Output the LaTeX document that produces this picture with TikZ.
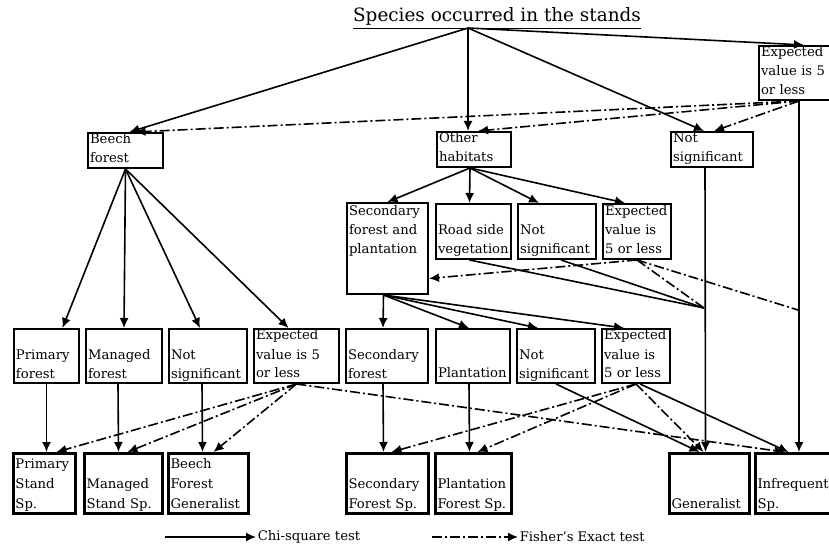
\documentclass[tikz,border=0pt]{standalone}
\usepackage{fontspec}
\setmainfont{DejaVu Serif}
\usetikzlibrary{arrows.meta}

\begin{document}
\begin{tikzpicture}[x=0.5pt,y=-0.5pt,>={Latex[length=5pt,width=4.5pt]}]
        \tikzstyle{every path}=[line width=0.8pt]
        \useasboundingbox (0,0) rectangle (829,550);

        \tikzstyle{box}=[draw,line width=1pt,anchor=north west,align=left,inner sep=1pt,font=\fontsize{6.6}{9.5}\selectfont]
        \tikzstyle{final}=[box,line width=1.5pt,font=\fontsize{6.6}{10}\selectfont]
        \tikzstyle{top2}=[box,text height=4.5pt,text depth=11pt]
        \tikzstyle{mid3}=[box,text height=5pt,text depth=20.5pt]
        \tikzstyle{mid2}=[box,text height=14.5pt,text depth=11pt]
        \tikzstyle{low3}=[box,text height=4.5pt,text depth=20.5pt]
        \tikzstyle{low2}=[box,text height=14pt,text depth=11pt]
        \tikzstyle{low1}=[box,text height=23.5pt,text depth=1.5pt]
        \tikzstyle{end3}=[final,text height=6.5pt,text depth=21.5pt]
        \tikzstyle{end2}=[final,text height=16.5pt,text depth=11.5pt]
        \tikzstyle{end1}=[final,text height=26.5pt,text depth=1.5pt]
        \tikzstyle{chisq}=[->]
        \tikzstyle{fisher}=[->,dash pattern=on 5pt off 1.5pt on 1pt off 1.5pt]
        \tikzstyle{chiline}=[]
        \tikzstyle{fisherline}=[dash pattern=on 5pt off 1.5pt on 1pt off 1.5pt]

        \node[font=\fontsize{9.2}{11}\selectfont,anchor=base] (title) at (497,22) {\underline{Species occurred in the stands}};
        \coordinate (src) at (468,28);

        % first split
        \node[low3,text width=43pt] (e0) at (758,45) {Expected\\value is 5\\or less};
        \node[top2,text width=35.5pt] (bf) at (87,132) {Beech\\forest};
        \node[top2,text width=35pt] (oh) at (436,131) {Other\\habitats};
        \node[top2,text width=39pt] (ns0) at (670,131) {Not\\significant};

        % other habitats split
        \node[box,text width=38.5pt,text height=5.25pt,text depth=38.25pt] (sfp) at (346,202) {Secondary\\forest and\\plantation};
        \node[mid2,text width=35.5pt] (rs) at (435,203) {Road side\\vegetation};
        \node[mid2,text width=37pt] (ns1) at (517,203) {Not\\significant};
        \node[mid3,text width=32pt] (e1) at (602,203) {Expected\\value is\\5 or less};

        % stands
        \node[low2,text width=30.5pt] (pf) at (13,328) {Primary\\forest};
        \node[low2,text width=36pt] (mf) at (85,328) {Managed\\forest};
        \node[low2,text width=37pt] (ns2) at (168,328) {Not\\significant};
        \node[low3,text width=40.5pt] (e2) at (253,328) {Expected\\value is 5\\or less};
        \node[low2,text width=39pt] (sf) at (345,328) {Secondary\\forest};
        \node[low1,text width=35pt] (pl) at (435,328) {Plantation};
        \node[low2,text width=37pt] (ns3) at (516,328) {Not\\significant};
        \node[low3,text width=32pt] (e3) at (601,328) {Expected\\value is\\5 or less};

        % species groups
        \node[end3,text width=29pt] (psp) at (12,452) {Primary\\Stand\\Sp.};
        \node[end2,text width=37pt] (msp) at (83,452) {Managed\\Stand Sp.};
        \node[end3,text width=38pt] (bfg) at (167,452) {Beech\\Forest\\Generalist};
        \node[end2,text width=39pt] (ssp) at (345,452) {Secondary\\Forest Sp.};
        \node[end2,text width=36pt] (pfs) at (434,452) {Plantation\\Forest Sp.};
        \node[end1,text width=38pt] (gen) at (668,452) {Generalist};
        \node[end2,text width=43pt] (inf) at (754,452) {Infrequent\\Sp.};

        \coordinate (e0s) at ([xshift=-2.5pt]e0.south);
        \coordinate (jg) at (704,308);
        \coordinate (ji) at (798,310);

        \draw[chisq] (src) -- ([xshift=2pt]bf.north);
        \draw[chisq] (src) -- (src |- oh.north);
        \draw[chisq] (src) -- ([xshift=-4pt]ns0.north);
        \draw[chisq] (src) -- (e0.north);
        \draw[fisher] (e0s) -- ([xshift=5pt]bf.north);
        \draw[fisher] (e0s) -- ([xshift=2pt]oh.north);
        \draw[fisher] (e0s) -- ([xshift=1pt]ns0.north);
        \draw[chisq] (e0s) -- (e0s |- inf.north);
        \draw[chisq] ([xshift=-3.5pt]ns0.south) -- ([xshift=-2pt]gen.north);

        \draw[chisq] (bf.south) -- ([xshift=8pt]pf.north);
        \draw[chisq] (bf.south) -- (mf.north);
        \draw[chisq] (bf.south) -- ([xshift=-4pt]ns2.north);
        \draw[chisq] (bf.south) -- ([xshift=-4pt]e2.north);

        \draw[chisq] ([xshift=-2pt]oh.south) -- (sfp.north);
        \draw[chisq] ([xshift=-2pt]oh.south) -- ([xshift=-2pt]rs.north);
        \draw[chisq] ([xshift=-2pt]oh.south) -- ([xshift=-9pt]ns1.north);
        \draw[chisq] ([xshift=-2pt]oh.south) -- ([xshift=-6pt]e1.north);
        \draw[fisher] (e1.south) -- ([yshift=-15pt]sfp.east);
        \draw[chiline] ([xshift=-2pt]rs.south) -- (jg);
        \draw[chiline] ([xshift=2pt]ns1.south) -- (jg);
        \draw[fisherline] (e1.south) -- (jg);
        \draw[fisherline] (e1.south) -- (ji);

        \draw[chisq] ([xshift=-2pt]sfp.south) -- ([xshift=-2pt]sf.north);
        \draw[chisq] ([xshift=-2pt]sfp.south) -- ([xshift=-2pt]pl.north);
        \draw[chisq] ([xshift=-2pt]sfp.south) -- ([xshift=-9pt]ns3.north);
        \draw[chisq] ([xshift=-2pt]sfp.south) -- ([xshift=-6pt]e3.north);

        \draw[chisq] (pf.south) -- ([xshift=1pt]psp.north);
        \draw[chisq] ([xshift=-3pt]mf.south) -- ([xshift=-2.5pt]msp.north);
        \draw[chisq] ([xshift=-3pt]ns2.south) -- ([xshift=-3pt]bfg.north);
        \draw[chisq] ([xshift=-2pt]sf.south) -- ([xshift=-2pt]ssp.north);
        \draw[chisq] ([xshift=-2pt]pl.south) -- ([xshift=-2pt]pfs.north);
        \draw[chisq] (ns3.south) -- ([xshift=-5pt]gen.north);
        \draw[chisq] ([xshift=2pt]e3.south) -- ([xshift=-6pt]inf.north);

        \draw[fisher] (e2.south) -- ([xshift=6pt]psp.north);
        \draw[fisher] (e2.south) -- ([xshift=2pt]msp.north);
        \draw[fisher] (e2.south) -- ([xshift=2.5pt]bfg.north);
        \draw[fisher] (e2.south) -- ([xshift=-8pt]inf.north);
        \draw[fisher] (e3.south) -- ([xshift=2pt]ssp.north);
        \draw[fisher] (e3.south) -- ([xshift=2pt]pfs.north);
        \draw[fisher] (e3.south) -- ([xshift=-3pt]gen.north);

        % legend
        \node[anchor=west,inner sep=0.5pt,font=\fontsize{6.6}{8}\selectfont] (lchi) at (256,537) {Chi-square test};
        \node[anchor=west,inner sep=0.5pt,font=\fontsize{6.6}{8}\selectfont] (lfis) at (518,537) {Fisher's Exact test};
        \coordinate (lchis) at (165,537);
        \coordinate (lfiss) at (432,537);
        \draw[chisq] (lchis) -- (lchi.west);
        \draw[fisher] (lfiss) -- (lfis.west);
\end{tikzpicture}
\end{document}
